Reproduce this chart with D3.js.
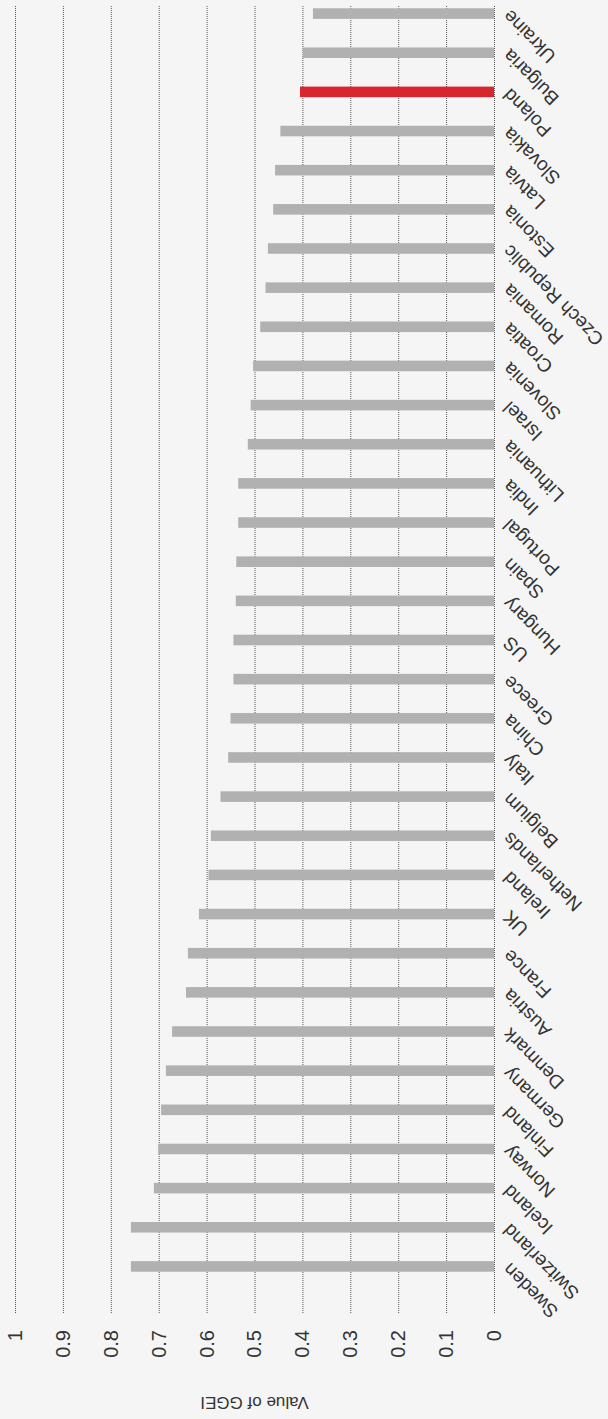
<!DOCTYPE html>
<html>
<head>
<meta charset="utf-8">
<script src="https://cdn.jsdelivr.net/npm/d3@7"></script>
<style>
  html, body { margin: 0; padding: 0; background: #f5f5f5; }
  svg { display: block; }
  text { font-family: "Liberation Sans", Arial, sans-serif; fill: #333; }
</style>
</head>
<body>
<svg id="chart" width="608" height="1419"></svg>
<script>
// GGEI values by country, ordered from highest to lowest
const countries = ["Sweden", "Switzerland", "Iceland", "Norway", "Finland", "Germany", "Denmark",
  "Austria", "France", "UK", "Ireland", "Netherlands", "Belgium", "Italy", "China", "Greece", "US",
  "Hungary", "Spain", "Portugal", "India", "Lithuania", "Israel", "Slovenia", "Croatia", "Romania",
  "Czech Republic", "Estonia", "Latvia", "Slovakia", "Poland", "Bulgaria", "Ukraine"];
const ggei = [0.758, 0.758, 0.710, 0.701, 0.695, 0.685, 0.672,
  0.643, 0.639, 0.616, 0.596, 0.591, 0.571, 0.555, 0.550, 0.544, 0.544,
  0.539, 0.538, 0.534, 0.534, 0.514, 0.508, 0.503, 0.488, 0.477,
  0.472, 0.461, 0.457, 0.446, 0.405, 0.399, 0.378];
const highlighted = ["Poland"];
const valueTicks = [0, 0.1, 0.2, 0.3, 0.4, 0.5, 0.6, 0.7, 0.8, 0.9, 1];
const axisTitle = "Value of GGEI";

const W = 1419, H = 608;          // chart drawn as a column chart, then turned a quarter left
const plotLeft = 106, plotRight = 1414;
const baseY = 494, topY = 15;

const svg = d3.select("#chart");
const g = svg.append("g").attr("transform", `translate(0,${W}) rotate(-90)`);

const x = d3.scaleBand().domain(countries).range([133, 1425])
  .paddingInner(0.73).paddingOuter(0.365);
const y = d3.scaleLinear().domain([0, 1]).range([baseY, topY]);

// value axis with dotted grid lines
const yAxis = d3.axisLeft(y).tickValues(valueTicks).tickFormat(d3.format(""))
  .tickSize(-(plotRight - plotLeft)).tickPadding(17);
const ag = g.append("g").attr("transform", `translate(${plotLeft},0)`).call(yAxis);
ag.select(".domain").remove();
ag.selectAll(".tick line").attr("stroke", "#555").attr("stroke-dasharray", "1,1");
ag.selectAll(".tick text").style("font-size", "20px").attr("fill", "#333")
  .style("font-family", "'Liberation Sans', Arial, sans-serif");

// bars
g.append("g").selectAll("rect").data(countries).join("rect")
  .attr("x", d => x(d))
  .attr("width", x.bandwidth())
  .attr("y", (d, i) => y(ggei[i]))
  .attr("height", (d, i) => baseY - y(ggei[i]))
  .attr("fill", d => highlighted.includes(d) ? "#d8262e" : "#b1b1b1");

// country labels
g.append("g").selectAll("text").data(countries).join("text")
  .attr("transform", d => `translate(${x(d) + x.bandwidth() / 2},${baseY + 12}) rotate(-45)`)
  .attr("text-anchor", "end")
  .attr("dy", "0.35em")
  .style("font-size", "19px")
  .text(d => d);

// axis title
g.append("text")
  .attr("transform", `translate(16,${(baseY + topY) / 2}) rotate(-90)`)
  .attr("text-anchor", "middle")
  .attr("dy", "0.35em")
  .style("font-size", "17px")
  .text(axisTitle);
</script>
</body>
</html>
